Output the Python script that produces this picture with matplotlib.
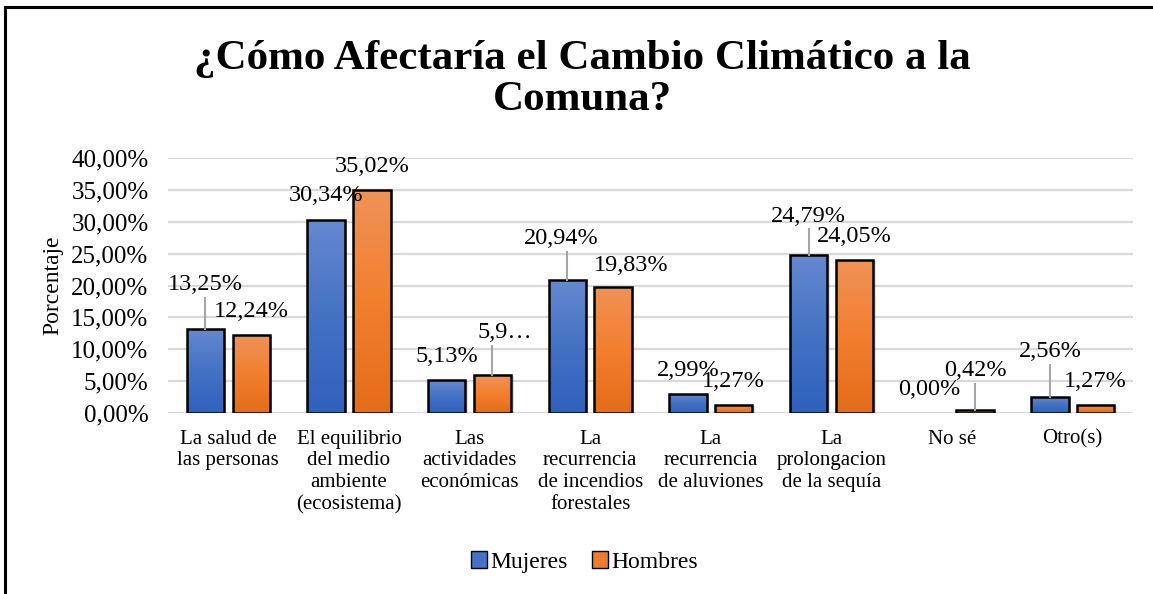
import numpy as np
import matplotlib
matplotlib.use("Agg")
import matplotlib.pyplot as plt
from matplotlib.colors import LinearSegmentedColormap
from matplotlib.lines import Line2D
from matplotlib.patches import Patch, Rectangle

# --- data -------------------------------------------------------------
categories = [
    "La salud de\nlas personas",
    "El equilibrio\ndel medio\nambiente\n(ecosistema)",
    "Las\nactividades\neconómicas",
    "La\nrecurrencia\nde incendios\nforestales",
    "La\nrecurrencia\nde aluviones",
    "La\nprolongacion\nde la sequía",
    "No sé",
    "Otro(s)",
]
mujeres = [13.25, 30.34, 5.13, 20.94, 2.99, 24.79, 0.00, 2.56]
hombres = [12.24, 35.02, 5.93, 19.83, 1.27, 24.05, 0.42, 1.27]
mujeres_txt = ["13,25%", "30,34%", "5,13%", "20,94%", "2,99%", "24,79%", "0,00%", "2,56%"]
hombres_txt = ["12,24%", "35,02%", "5,9…", "19,83%", "1,27%", "24,05%", "0,42%", "1,27%"]
yticks = [0, 5, 10, 15, 20, 25, 30, 35, 40]

# labels that were dragged away from the bar: (x offset, label y, leader line?)
moved_m = {0: (0.0, 20.2, True), 3: (-0.05, 27.3, True), 5: (0.0, 30.9, True), 7: (0.0, 9.6, True)}
moved_h = {2: (0.10, 12.6, True), 3: (0.15, 23.2, False), 6: (0.0, 6.6, True)}

plt.rcParams["font.family"] = ["Liberation Serif", "DejaVu Serif"]

BLUE = LinearSegmentedColormap.from_list("b", ["#2f61bd", "#4472c4", "#6689d0"])
ORANGE = LinearSegmentedColormap.from_list("o", ["#e46c1a", "#f27f2e", "#f09258"])

fig = plt.figure(figsize=(11.53, 5.94), dpi=100)
ax = fig.add_axes([0.1457, 0.3047, 0.837, 0.4293])

x = np.arange(len(categories))
w, off = 0.31, 0.19
grad = np.linspace(0, 1, 256).reshape(-1, 1)


def draw_bars(xs, vals, cmap):
    for xi, v in zip(xs, vals):
        if v <= 0:
            continue
        # soft shadow
        ax.add_patch(Rectangle((xi - w / 2 + 0.02, 0), w, v - 0.15, facecolor="#000000",
                               alpha=0.12, edgecolor="none", zorder=2))
        r = Rectangle((xi - w / 2, 0), w, v, facecolor="none", edgecolor="black",
                      linewidth=1.8, zorder=4)
        ax.add_patch(r)
        im = ax.imshow(grad, cmap=cmap, aspect="auto", origin="lower",
                       extent=(xi - w / 2, xi + w / 2, 0, v), zorder=3)
        im.set_clip_path(r)


draw_bars(x - off, mujeres, BLUE)
draw_bars(x + off, hombres, ORANGE)
ax.set_xlim(-0.5, len(categories) - 0.5)
ax.set_ylim(0, 40)


def labels(xs, vals, txts, moved):
    for i, (xi, v, t) in enumerate(zip(xs, vals, txts)):
        if i in moved:
            dx, ly, leader = moved[i]
            ax.text(xi + dx, ly, t, ha="center", va="center", fontsize=17.5, zorder=6)
            if leader:
                ax.plot([xi, xi], [v, ly - 2.1], color="#a6a6a6", lw=1.5, zorder=5)
        else:
            ax.annotate(t, (xi, v), xytext=(0, 17), textcoords="offset points",
                        ha="center", va="center", fontsize=17.5, zorder=6)


labels(x - off, mujeres, mujeres_txt, moved_m)
labels(x + off, hombres, hombres_txt, moved_h)

ax.set_yticks(yticks)
ax.set_yticklabels([f"{v:.2f}%".replace(".", ",") for v in yticks], fontsize=18)
ax.set_xticks(x)
ax.set_xticklabels(categories, fontsize=15, linespacing=1.2, va="top")
ax.tick_params(axis="both", length=0)
ax.tick_params(axis="y", pad=14)
ax.tick_params(axis="x", pad=12)
ax.grid(axis="y", color="#d9d9d9", linewidth=1.6, zorder=0)
ax.set_axisbelow(True)
for s in ax.spines.values():
    s.set_visible(False)
ax.set_ylabel("Porcentaje", fontsize=17)
ax.yaxis.set_label_coords(-0.108, 0.5)

fig.text(0.505, 0.866, "¿Cómo Afectaría el Cambio Climático a la\nComuna?",
         ha="center", va="center", fontsize=31, fontweight="bold", linespacing=1.08)

leg = [Patch(facecolor="#4472c4", edgecolor="black", label="Mujeres"),
       Patch(facecolor="#ed7d31", edgecolor="black", label="Hombres")]
fig.legend(handles=leg, loc="center", bbox_to_anchor=(0.507, 0.054), ncol=2, frameon=False,
           fontsize=17, handlelength=0.7, handleheight=0.7, handletextpad=0.15,
           columnspacing=1.0)

# outer frame (only top and left edges are visible in the crop)
fig.add_artist(Line2D([0.0045, 1.0], [0.988, 0.988], color="black", lw=2.2))
fig.add_artist(Line2D([0.0045, 0.0045], [0.0, 0.988], color="black", lw=2.2))

fig.savefig("out.png", dpi=100)
